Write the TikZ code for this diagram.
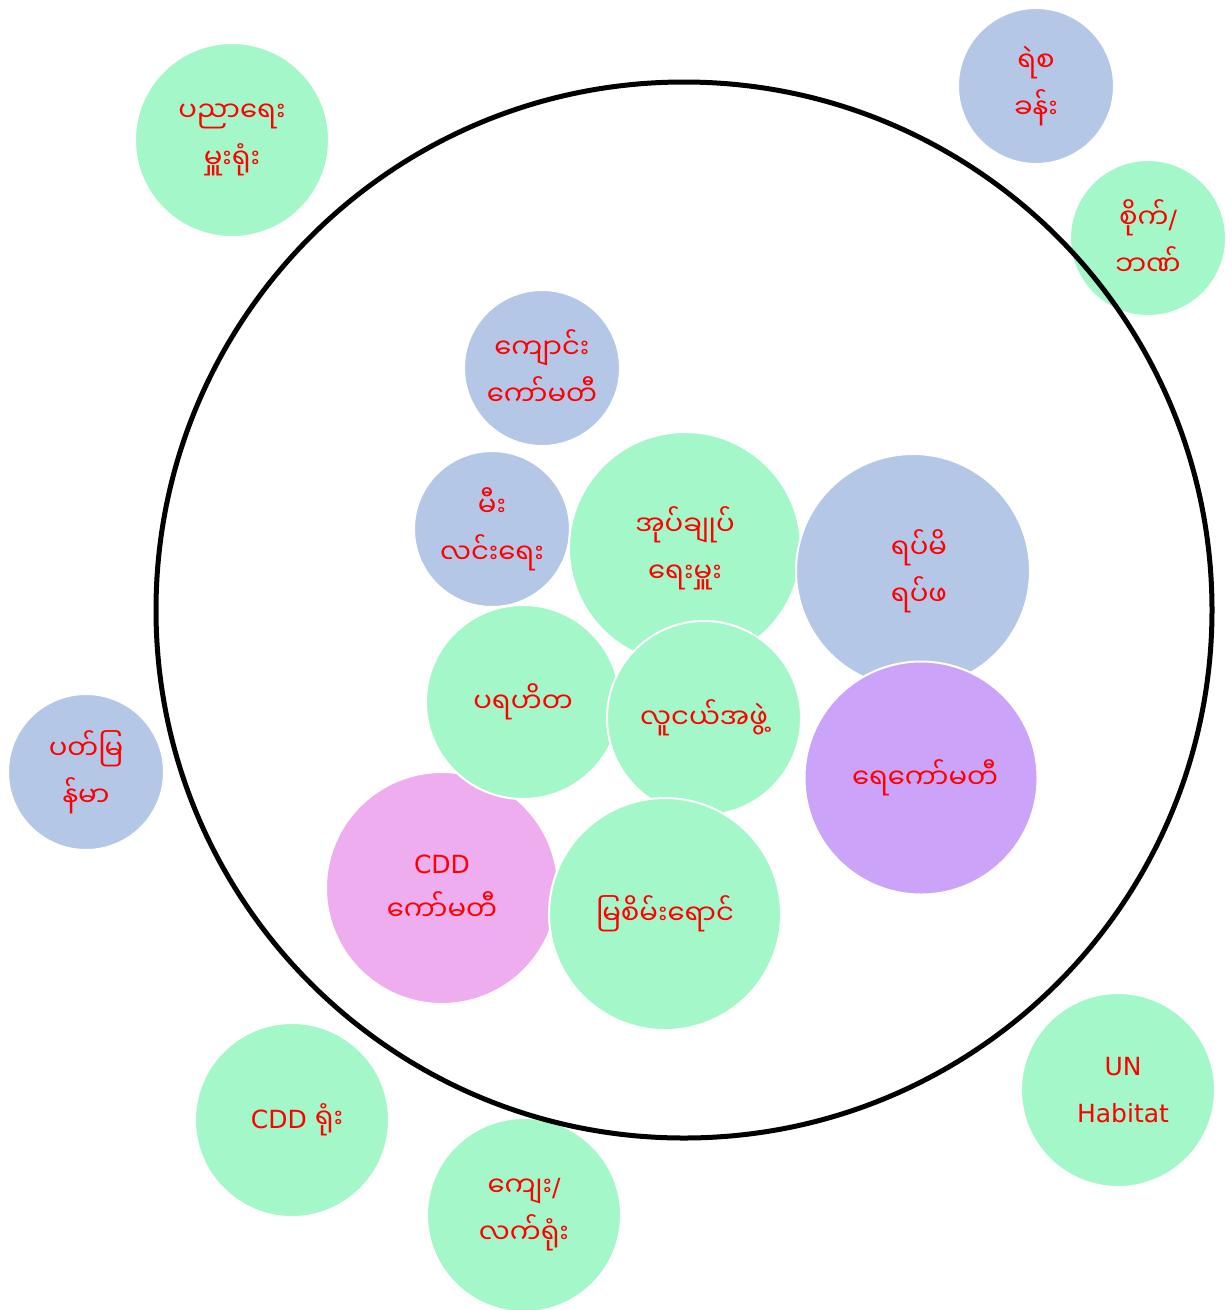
\documentclass[tikz,border=0pt]{standalone}
\usepackage{fontspec}
\setmainfont{DejaVu Sans}
\newfontfamily\my[Script=Myanmar,Scale=1.1]{Noto Sans Myanmar UI}
\definecolor{cgreen}{HTML}{A3F7C8}
\definecolor{cblue}{HTML}{B4C7E7}
\definecolor{cpurple}{HTML}{CBA3F9}
\definecolor{cpink}{HTML}{EEADEF}
\definecolor{cred}{HTML}{FF0000}
\tikzset{
  bub/.style={circle, draw=white, line width=2pt, inner sep=0pt, text=cred, align=center,
    font=\fontsize{25}{47}\selectfont},
  gbub/.style={bub, fill=cgreen},
  bbub/.style={bub, fill=cblue},
  pbub/.style={bub, fill=cpurple},
  kbub/.style={bub, fill=cpink},
  big/.style={circle, draw=black, line width=5pt, inner sep=0pt, fill=none},
}
\begin{document}
\begin{tikzpicture}[x=1pt,y=-1pt]
\useasboundingbox (0,0) rectangle (1232,1310);
% outside
\node[gbub, minimum size=194pt] (pyinnya) at (232,140) {\my ပညာရေး\\\my မှူးရုံး};
\node[bbub, minimum size=156pt] (yeh) at (1036,86) {\my ရဲစ\\\my ခန်း};
\node[gbub, minimum size=156pt] (saik) at (1148,238) {{\my စိုက်}/\\\my ဘဏ်};
\node[bbub, minimum size=156pt] (pat) at (86,772) {\my ပတ်မြ\\\my န်မာ};
\node[gbub, minimum size=194pt] (cddoffice) at (292,1120) {\hspace*{10pt}CDD {\my ရုံး}};
\node[gbub, minimum size=194pt] (village) at (524,1215) {{\my ကျေး}/\\\my လက်ရုံး};
\node[gbub, minimum size=194pt] (un) at (1118,1090) {\hspace*{10pt}UN\\\hspace*{10pt}Habitat};
% inside
\node[bbub, minimum size=156pt] (school) at (542,368) {\my ကျောင်း\\\my ကော်မတီ};
\node[bbub, minimum size=156pt] (fire) at (492,529) {\my မီး\\\my လင်းရေး};
\node[gbub, minimum size=232pt] (admin) at (685,548) {\my အုပ်ချုပ်\\\my ရေးမှူး};
\node[bbub, minimum size=234pt] (elders) at (913,571) {\hspace*{12pt}\my ရပ်မိ\\\hspace*{12pt}\my ရပ်ဖ};
\node[kbub, minimum size=232pt] (cddcom) at (442,888) {CDD\\\my ကော်မတီ};
\node[gbub, minimum size=194pt] (charity) at (523,702) {\my ပရဟိတ};
\node[gbub, minimum size=194pt] (youth) at (704,718) {\my လူငယ်အဖွဲ့};
\node[gbub, minimum size=232pt] (green) at (665,914) {\my မြစိမ်းရောင်};
\node[pbub, minimum size=233pt] (water) at (921,778) {\hspace*{8pt}\my ရေကော်မတီ};
% big circle
\node[big, minimum size=1056pt] (ring) at (684,610) {};
\end{tikzpicture}
\end{document}
